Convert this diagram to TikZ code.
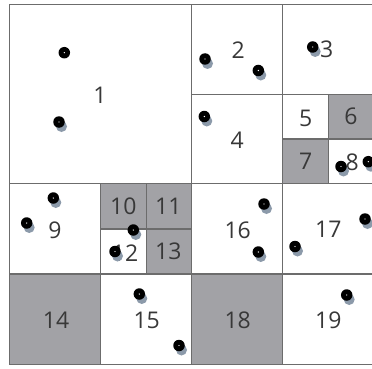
\documentclass[tikz,border=0pt]{standalone}
\usepackage{fontspec}
\setmainfont{Open Sans}
\definecolor{cellgray}{HTML}{A2A2A6}
\definecolor{linegray}{HTML}{6C6C6C}
\definecolor{txtgray}{HTML}{383838}
\definecolor{shadowc}{HTML}{8C9AAA}
\tikzset{
  cell/.style={draw=linegray, line width=1.4pt},
  graycell/.style={cell, fill=cellgray},
  lbl/.style={text=txtgray, font=\fontsize{23}{25}\selectfont, inner sep=0pt},
  pin/.style={circle, fill=black, minimum size=11.5pt, inner sep=0pt},
  pinshadow/.style={circle, fill=shadowc, minimum size=11pt, inner sep=0pt},
}
\newcommand{\pinat}[3]{%
  \node[pinshadow] at (#1+2.5,#2+4.5) {};
  \node[pin] (#3) at (#1,#2) {};
  \fill[white] (#3.center) circle (0.7pt);}
\newcommand{\pinnoshadow}[3]{%
  \node[pin] (#3) at (#1,#2) {};
  \fill[white] (#3.center) circle (0.7pt);}
\begin{document}
\begin{tikzpicture}[x=1pt,y=-1pt]
\useasboundingbox (0,0) rectangle (372,369);
\fill[white] (0,0) rectangle (372,369);
% big cells
\draw[cell] (9.5,4.3) rectangle (191.7,183.5);
\draw[cell] (191.7,4.3) rectangle (282.7,94.3);
\draw[cell] (282.7,4.3) rectangle (374,94.3);
\draw[cell] (191.7,94.3) rectangle (282.7,183.5);
\draw[cell] (282.7,94.3) rectangle (328.4,139);
\draw[graycell] (328.4,94.3) rectangle (374,139);
\draw[graycell] (282.7,139) rectangle (328.4,183.5);
\draw[cell] (328.4,139) rectangle (374,183.5);
\draw[cell] (9.5,183.5) rectangle (100.7,274);
\draw[graycell] (100.7,183.5) rectangle (146.2,229);
\draw[graycell] (146.2,183.5) rectangle (191.7,229);
\draw[cell] (100.7,229) rectangle (146.2,274);
\draw[graycell] (146.2,229) rectangle (191.7,274);
\draw[cell] (191.7,183.5) rectangle (282.7,274);
\draw[cell] (282.7,183.5) rectangle (374,274);
\draw[graycell] (9.5,274) rectangle (100.7,364.5);
\draw[cell] (100.7,274) rectangle (191.7,364.5);
\draw[graycell] (191.7,274) rectangle (282.7,364.5);
\draw[cell] (282.7,274) rectangle (374,364.5);
% labels
\node[lbl] (l1) at (100,95) {1};
\node[lbl] (l2) at (238.3,50) {2};
\node[lbl] (l3) at (326.7,49.3) {3};
\node[lbl] (l4) at (237.3,140) {4};
\node[lbl] (l5) at (305.7,118.3) {5};
\node[lbl] (l6) at (351,116.7) {6};
\node[lbl] (l7) at (305.7,161.7) {7};
\node[lbl] (l8) at (352.3,162.3) {8};
\node[lbl] (l9) at (55,230) {9};
\node[lbl] (l10) at (123.3,206.7) {10};
\node[lbl] (l11) at (168.3,206.7) {11};
\node[lbl] (l12) at (125,253.3) {12};
\node[lbl] (l13) at (168.3,251) {13};
\node[lbl] (l14) at (56,320) {14};
\node[lbl] (l15) at (146.7,320) {15};
\node[lbl] (l16) at (237.7,230) {16};
\node[lbl] (l17) at (328.3,229.3) {17};
\node[lbl] (l18) at (237.7,320) {18};
\node[lbl] (l19) at (328.3,320) {19};
% pins
\pinnoshadow{64.3}{52.7}{p1a}
\pinat{59}{122}{p1b}
\pinat{205}{59}{p2a}
\pinat{258.3}{70.5}{p2b}
\pinat{312.7}{47}{p3}
\pinat{204.3}{116.5}{p4}
\pinat{341}{166.5}{p8a}
\pinat{368.3}{161.7}{p8b}
\pinat{53.3}{198}{p9a}
\pinat{26.7}{223}{p9b}
\pinat{133.3}{230}{p12a}
\pinat{115}{251.5}{p12b}
\pinat{139.3}{294}{p15a}
\pinat{179}{345.5}{p15b}
\pinat{264}{204}{p16a}
\pinat{258.3}{252}{p16b}
\pinat{295}{246.5}{p17a}
\pinat{365}{219}{p17b}
\pinat{346.7}{295}{p19}
\end{tikzpicture}
\end{document}
